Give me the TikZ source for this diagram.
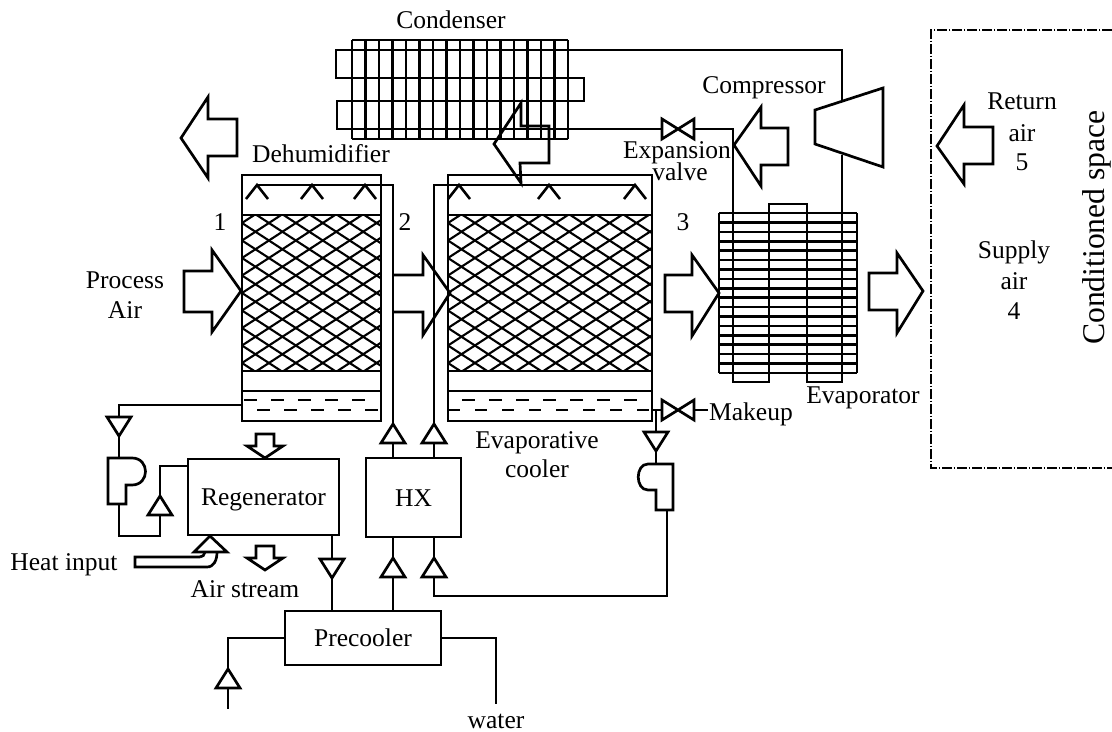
\documentclass[tikz,border=0pt]{standalone}
\usepackage{fontspec}
\setmainfont{Liberation Serif}
\usepackage{tikz}
\usetikzlibrary{calc}

\tikzset{
  pipe/.style={line width=2.3pt, line join=miter},
  fin/.style={line width=2.2pt},
  meshline/.style={line width=1.8pt},
  unit/.style={draw, line width=2.3pt, inner sep=0pt, outer sep=0pt, text height=15pt, text depth=0pt, font=\fontsize{21.8}{24}\selectfont},
  lbl/.style={inner sep=0pt, text height=15pt, text depth=0pt, font=\fontsize{21.8}{24}\selectfont},
}
\newcommand{\tridown}[2]{\draw[pipe, fill=white] (#1-12,#2) -- (#1+12,#2) -- (#1,#2+19) -- cycle;}
\newcommand{\triup}[2]{\draw[pipe, fill=white] (#1-12,#2) -- (#1+12,#2) -- (#1,#2-19) -- cycle;}
\newcommand{\valve}[2]{\draw[pipe, fill=white] (#1-16,#2-10) -- (#1+16,#2+10) -- (#1+16,#2-10) -- (#1-16,#2+10) -- cycle;}
\newcommand{\downblock}[2]{\draw[pipe] (#1-9,#2) -- (#1+9,#2) -- (#1+9,#2+12) -- (#1+18,#2+12) -- (#1,#2+24) -- (#1-18,#2+12) -- (#1-9,#2+12) -- cycle;}
\newcommand{\sprays}[2]{\foreach \sx in {#2} {\draw[fin] (\sx-11,199) -- (\sx,#1) -- (\sx+11,199);}}
% tower body: packing, sump, both with the same heights
\newcommand{\packing}[2]{
  \begin{scope}
    \clip (#1,215) rectangle (#2,371);
    \foreach \k in {-16,...,16} {
      \draw[meshline] (#1,223+\k*17.5) -- (#2,223+\k*17.5+0.65*#2-0.65*#1);
      \draw[meshline] (#1,223+\k*17.5) -- (#2,223+\k*17.5-0.65*#2+0.65*#1);
    }
  \end{scope}
  \draw[pipe] (#1,175) rectangle (#2,421);
  \draw[pipe] (#1,215) -- (#2,215);
  \draw[pipe] (#1,371) -- (#2,371);
  \draw[pipe] (#1,391) -- (#2,391);
}

\begin{document}
\begin{tikzpicture}[x=0.03cm, y=-0.03cm]
  \useasboundingbox (0,0) rectangle (1112,732);

  % Condenser
  \foreach \i in {0,...,16} {
    \draw[fin] (352+\i*13.5,40) -- (352+\i*13.5,139);
  }
  \draw[fin] (352,40) -- (568,40);
  \draw[fin] (352,139) -- (568,139);
  \coordinate (comp_top) at (842,101);
  \coordinate (comp_bot) at (842,155);
  \draw[pipe] (comp_top) |- (336,50) -- (336,78) -- (584,78) -- (584,101) -- (337,101) -- (337,129) -- (662,129);
  \draw[pipe] (695,129) -- (733,129) -- (733,382) -- (769,382) -- (769,204) -- (807,204) -- (807,382) -- (842,382) -- (comp_bot);
  \valve{678}{129}

  % Compressor
  \draw[pipe] (815,110) -- (883,88) -- (883,167) -- (815,144) -- cycle;

  % Evaporator
  \foreach \i in {0,...,17} {
    \draw[fin] (719,213+\i*9.41) -- (857,213+\i*9.41);
  }
  \draw[fin] (719,213) -- (719,373);
  \draw[fin] (857,213) -- (857,373);

  % Towers
  \packing{242}{381}
  \packing{448}{652}
  \sprays{185}{257,312,365}
  \sprays{185}{459,549,635}
  \draw[pipe, dash pattern=on 0.4cm off 0.41cm] (244,400) -- (367,400);
  \draw[pipe, dash pattern=on 0.4cm off 0.41cm] (257,410) -- (381,410);
  \draw[pipe, dash pattern=on 0.4cm off 0.41cm] (462,400) -- (640,400);
  \draw[pipe, dash pattern=on 0.36cm off 0.45cm] (448,410) -- (652,410);

  % Units
  \node[unit, minimum width=4.53cm, minimum height=2.28cm] (regen) at (263.5,497) {Regenerator};
  \node[unit, minimum width=2.85cm, minimum height=2.37cm] (hx) at (413.5,497.5) {HX};
  \node[unit, minimum width=4.68cm, minimum height=1.62cm] (precooler) at (363,638) {Precooler};

  % Water lines
  \coordinate (hdr_a) at (257,185);
  \coordinate (hdr_b) at (635,185);
  \coordinate (riser_a) at (393,185);
  \coordinate (riser_b) at (434,185);
  \draw[pipe] (hdr_a) -- (riser_a) -- (riser_a |- hx.north);
  \draw[pipe] (hdr_b) -- (riser_b) -- (riser_b |- hx.north);
  \draw[pipe] (riser_a |- hx.south) -- (riser_a |- precooler.north);
  \coordinate (pump_r) at (667,509);
  \draw[pipe] (riser_b |- hx.south) -- (434,596) -- (667,596) -- (pump_r);
  \draw[pipe] (332,0 |- regen.south) -- (332,0 |- precooler.north);
  \coordinate (inlet) at (228,709);
  \coordinate (outlet) at (496,704);
  \draw[pipe] (precooler.west |- 0,638) -| (inlet);
  \draw[pipe] (precooler.east |- 0,638) -| (outlet);
  \coordinate (sump_a) at (242,405);
  \draw[pipe] (sump_a) -- (119,405) -- (119,458);
  \draw[pipe] (119,504) -- (119,536) -- (160,536) -- (160,466) -- (regen.west |- 0,466);
  \coordinate (sump_b) at (652,410);
  \draw[pipe] (sump_b) -- (662,410);
  \draw[pipe] (656,410) -- (656,464);
  \draw[pipe] (695,410) -- (708,410);
  \valve{678}{410}

  % Pumps
  \draw[pipe, fill=white] (108,458) -- (132,458) .. controls (150,458) and (150,485) .. (132,485) -- (126,485) -- (126,504) -- (108,504) -- cycle;
  \draw[pipe, fill=white] (673,464) -- (648,464) .. controls (635,464) and (635,490) .. (648,490) -- (656,490) -- (656,510) -- (673,510) -- cycle;

  % Triangles on the lines
  \tridown{119}{417}
  \triup{160}{515}
  \tridown{332}{559}
  \triup{393}{443}
  \triup{434}{443}
  \triup{393}{577}
  \triup{434}{577}
  \tridown{656}{432}
  \triup{228}{688}

  % Heat input
  \draw[pipe] (200,557) -- (135,557) -- (135,567) -- (207,567) .. controls (214,567) and (217,560) .. (217,552);
  \draw[pipe] (200,557) .. controls (203,557) and (204,555) .. (205,552);
  \draw[pipe] (194,552) -- (227,552) -- (210,536) -- cycle;

  % Air arrows
  \draw[pipe] (184,271) -- (212,271) -- (212,250) -- (241,291) -- (212,332) -- (212,312) -- (184,312) -- cycle;
  \draw[pipe] (393,275) -- (423,275) -- (423,255) -- (450,293) -- (423,335) -- (423,312) -- (393,312);
  \draw[pipe] (665,275) -- (692,275) -- (692,255) -- (719,293) -- (692,336) -- (692,312) -- (665,312) -- cycle;
  \draw[pipe] (869,273) -- (897,273) -- (897,253) -- (923,291) -- (897,333) -- (897,310) -- (869,310) -- cycle;
  \draw[pipe] (181,138) -- (208,97) -- (208,119) -- (237,119) -- (237,156) -- (208,156) -- (208,178) -- cycle;
  \draw[pipe] (494,144) -- (521,103) -- (521,126) -- (549,126) -- (549,163) -- (520,163) -- (521,183) -- cycle;
  \draw[pipe] (734,145) -- (761,107) -- (761,128) -- (788,128) -- (788,165) -- (761,165) -- (761,186) -- cycle;
  \draw[pipe] (937,146) -- (964,105) -- (964,127) -- (993,127) -- (993,164) -- (964,164) -- (964,184) -- cycle;
  \downblock{265}{434}
  \downblock{265}{546}

  % Conditioned space
  \draw[pipe, dash pattern=on 0.3cm off 0.05cm on 0.05cm off 0.05cm] (1112,30) -- (931,30) -- (931,468) -- (1112,468);

  % Labels
  \node[lbl] (l_cond) at (451,19.5) {Condenser};
  \node[lbl] (l_comp) at (764,84.5) {Compressor};
  \node[lbl] (l_exp) at (677,150) {Expansion};
  \node[lbl] (l_valve) at (680,172) {valve};
  \node[lbl] (l_dehum) at (321,153.5) {Dehumidifier};
  \node[lbl] (l_one) at (220,222) {1};
  \node[lbl] (l_two) at (405,222) {2};
  \node[lbl] (l_three) at (683,222) {3};
  \node[lbl] (l_proc) at (125,279.5) {Process};
  \node[lbl] (l_air) at (125,309.5) {Air};
  \node[lbl] (l_evap) at (863,394.5) {Evaporator};
  \node[lbl] (l_makeup) at (751,411.5) {Makeup};
  \node[lbl] (l_cool_a) at (537,439.5) {Evaporative};
  \node[lbl] (l_cool_b) at (537,468.5) {cooler};
  \node[lbl] (l_heat) at (64,561.5) {Heat input};
  \node[lbl] (l_stream) at (245,588.5) {Air stream};
  \node[lbl] (l_water) at (496,719.5) {water};
  \node[lbl] (l_ret) at (1022,101) {Return};
  \node[lbl] (l_ret_air) at (1022,132.5) {air};
  \node[lbl] (l_five) at (1022,162) {5};
  \node[lbl] (l_sup) at (1014,250) {Supply};
  \node[lbl] (l_sup_air) at (1014,280.5) {air};
  \node[lbl] (l_four) at (1014,311) {4};
  \node[lbl, rotate=90, text height=18pt, font=\fontsize{27}{29}\selectfont] (l_space) at (1094,227.5) {Conditioned space};
\end{tikzpicture}
\end{document}
